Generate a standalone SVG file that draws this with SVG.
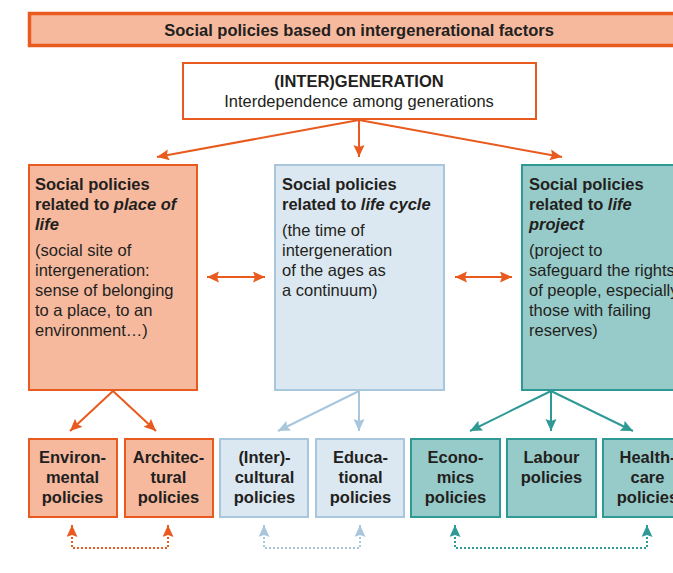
<svg xmlns="http://www.w3.org/2000/svg" width="673" height="573" viewBox="0 0 673 573">
<defs>
<style>
text{font-family:"Liberation Sans",Arial,sans-serif;font-size:16.5px;fill:#231f20}
.b{font-weight:bold}
.c{text-anchor:middle}
.i{font-style:italic}
.or{fill:#f6b99e;stroke:#e85a1d;stroke-width:2}
.bl{fill:#dce8f1;stroke:#a9c7dc;stroke-width:2}
.te{fill:#97cbca;stroke:#2e9995;stroke-width:2}
.lo{stroke:#e85a1d;stroke-width:2;fill:none}
.lb{stroke:#a9c7dc;stroke-width:2;fill:none}
.lt{stroke:#2e9995;stroke-width:2;fill:none}
.dot{stroke-dasharray:2 2}
</style>
<marker id="ao" markerUnits="userSpaceOnUse" markerWidth="14" markerHeight="12" refX="12" refY="5.5" orient="auto-start-reverse"><path d="M0,0 L12,5.5 L0,11 L2,5.5 Z" fill="#e85a1d"/></marker>
<marker id="ab" markerUnits="userSpaceOnUse" markerWidth="14" markerHeight="12" refX="12" refY="5.5" orient="auto-start-reverse"><path d="M0,0 L12,5.5 L0,11 L2,5.5 Z" fill="#a9c7dc"/></marker>
<marker id="at" markerUnits="userSpaceOnUse" markerWidth="14" markerHeight="12" refX="12" refY="5.5" orient="auto-start-reverse"><path d="M0,0 L12,5.5 L0,11 L2,5.5 Z" fill="#2e9995"/></marker>
</defs>
<rect width="673" height="573" fill="#ffffff"/>

<g id="title">
<rect x="29.5" y="13.5" width="660" height="32" fill="#f6b99e" stroke="#e85a1d" stroke-width="3.5"/>
<text class="b c" x="359" y="36">Social policies based on intergenerational factors</text>
</g>

<g id="intergeneration">
<rect x="183" y="63" width="353" height="56" fill="#ffffff" stroke="#e85a1d" stroke-width="2"/>
<text class="b c" x="359" y="87">(INTER)GENERATION</text>
<text class="c" x="359" y="107">Interdependence among generations</text>
</g>

<g id="place">
<rect class="or" x="29" y="165" width="168" height="225"/>
<text class="b" x="35" y="190">Social policies</text>
<text class="b" x="35" y="210">related to <tspan class="i">place of</tspan></text>
<text class="b i" x="35" y="230">life</text>
<text x="35" y="256">(social site of</text>
<text x="35" y="276">intergeneration:</text>
<text x="35" y="296">sense of belonging</text>
<text x="35" y="316">to a place, to an</text>
<text x="35" y="336">environment…)</text>
</g>

<g id="cycle">
<rect class="bl" x="275" y="165" width="169" height="225"/>
<text class="b" x="282" y="190">Social policies</text>
<text class="b" x="282" y="210">related to <tspan class="i">life cycle</tspan></text>
<text x="282" y="236">(the time of</text>
<text x="282" y="256">intergeneration</text>
<text x="282" y="276">of the ages as</text>
<text x="282" y="296">a continuum)</text>
</g>

<g id="project">
<rect class="te" x="522" y="165" width="170" height="225"/>
<text class="b" x="529" y="190">Social policies</text>
<text class="b" x="529" y="210">related to <tspan class="i">life</tspan></text>
<text class="b i" x="529" y="230">project</text>
<text x="529" y="256">(project to</text>
<text x="529" y="276">safeguard the rights</text>
<text x="529" y="296">of people, especially</text>
<text x="529" y="316">those with failing</text>
<text x="529" y="336">reserves)</text>
</g>

<g id="environmental">
<rect class="or" x="29" y="439" width="88" height="78"/>
<text class="b c" x="72.5" y="463">Environ-</text>
<text class="b c" x="72.5" y="483">mental</text>
<text class="b c" x="72.5" y="503">policies</text>
</g>
<g id="architectural">
<rect class="or" x="125" y="439" width="88" height="78"/>
<text class="b c" x="168.5" y="463">Architec-</text>
<text class="b c" x="168.5" y="483">tural</text>
<text class="b c" x="168.5" y="503">policies</text>
</g>
<g id="intercultural">
<rect class="bl" x="220" y="439" width="88" height="78"/>
<text class="b c" x="264.5" y="463">(Inter)-</text>
<text class="b c" x="264.5" y="483">cultural</text>
<text class="b c" x="264.5" y="503">policies</text>
</g>
<g id="educational">
<rect class="bl" x="316" y="439" width="88" height="78"/>
<text class="b c" x="360.5" y="463">Educa-</text>
<text class="b c" x="360.5" y="483">tional</text>
<text class="b c" x="360.5" y="503">policies</text>
</g>
<g id="economics">
<rect class="te" x="411" y="439" width="89" height="78"/>
<text class="b c" x="455.5" y="463">Econo-</text>
<text class="b c" x="455.5" y="483">mics</text>
<text class="b c" x="455.5" y="503">policies</text>
</g>
<g id="labour">
<rect class="te" x="507" y="439" width="89" height="78"/>
<text class="b c" x="551.5" y="463">Labour</text>
<text class="b c" x="551.5" y="483">policies</text>
</g>
<g id="healthcare">
<rect class="te" x="603" y="439" width="89" height="78"/>
<text class="b c" x="647.5" y="463">Health-</text>
<text class="b c" x="647.5" y="483">care</text>
<text class="b c" x="647.5" y="503">policies</text>
</g>

<g id="connectors">
<line class="lo" x1="359" y1="120" x2="157" y2="157" marker-end="url(#ao)"/>
<line class="lo" x1="359" y1="120" x2="359" y2="157" marker-end="url(#ao)"/>
<line class="lo" x1="359" y1="120" x2="562" y2="157" marker-end="url(#ao)"/>
<line class="lo" x1="207" y1="277" x2="265" y2="277" marker-start="url(#ao)" marker-end="url(#ao)"/>
<line class="lo" x1="455" y1="277" x2="512" y2="277" marker-start="url(#ao)" marker-end="url(#ao)"/>
<line class="lo" x1="113" y1="391" x2="70" y2="431" marker-end="url(#ao)"/>
<line class="lo" x1="113" y1="391" x2="156" y2="431" marker-end="url(#ao)"/>
<line class="lb" x1="359" y1="391" x2="278" y2="431" marker-end="url(#ab)"/>
<line class="lb" x1="359" y1="391" x2="359" y2="431" marker-end="url(#ab)"/>
<line class="lt" x1="551" y1="391" x2="470" y2="431" marker-end="url(#at)"/>
<line class="lt" x1="551" y1="391" x2="551" y2="431" marker-end="url(#at)"/>
<line class="lt" x1="551" y1="391" x2="633" y2="431" marker-end="url(#at)"/>
<path class="lo dot" d="M72,525 V548 H168 V525" marker-start="url(#ao)" marker-end="url(#ao)"/>
<path class="lb dot" d="M264,525 V548 H360 V525" marker-start="url(#ab)" marker-end="url(#ab)"/>
<path class="lt dot" d="M455,525 V548 H647 V525" marker-start="url(#at)" marker-end="url(#at)"/>
</g>
</svg>
